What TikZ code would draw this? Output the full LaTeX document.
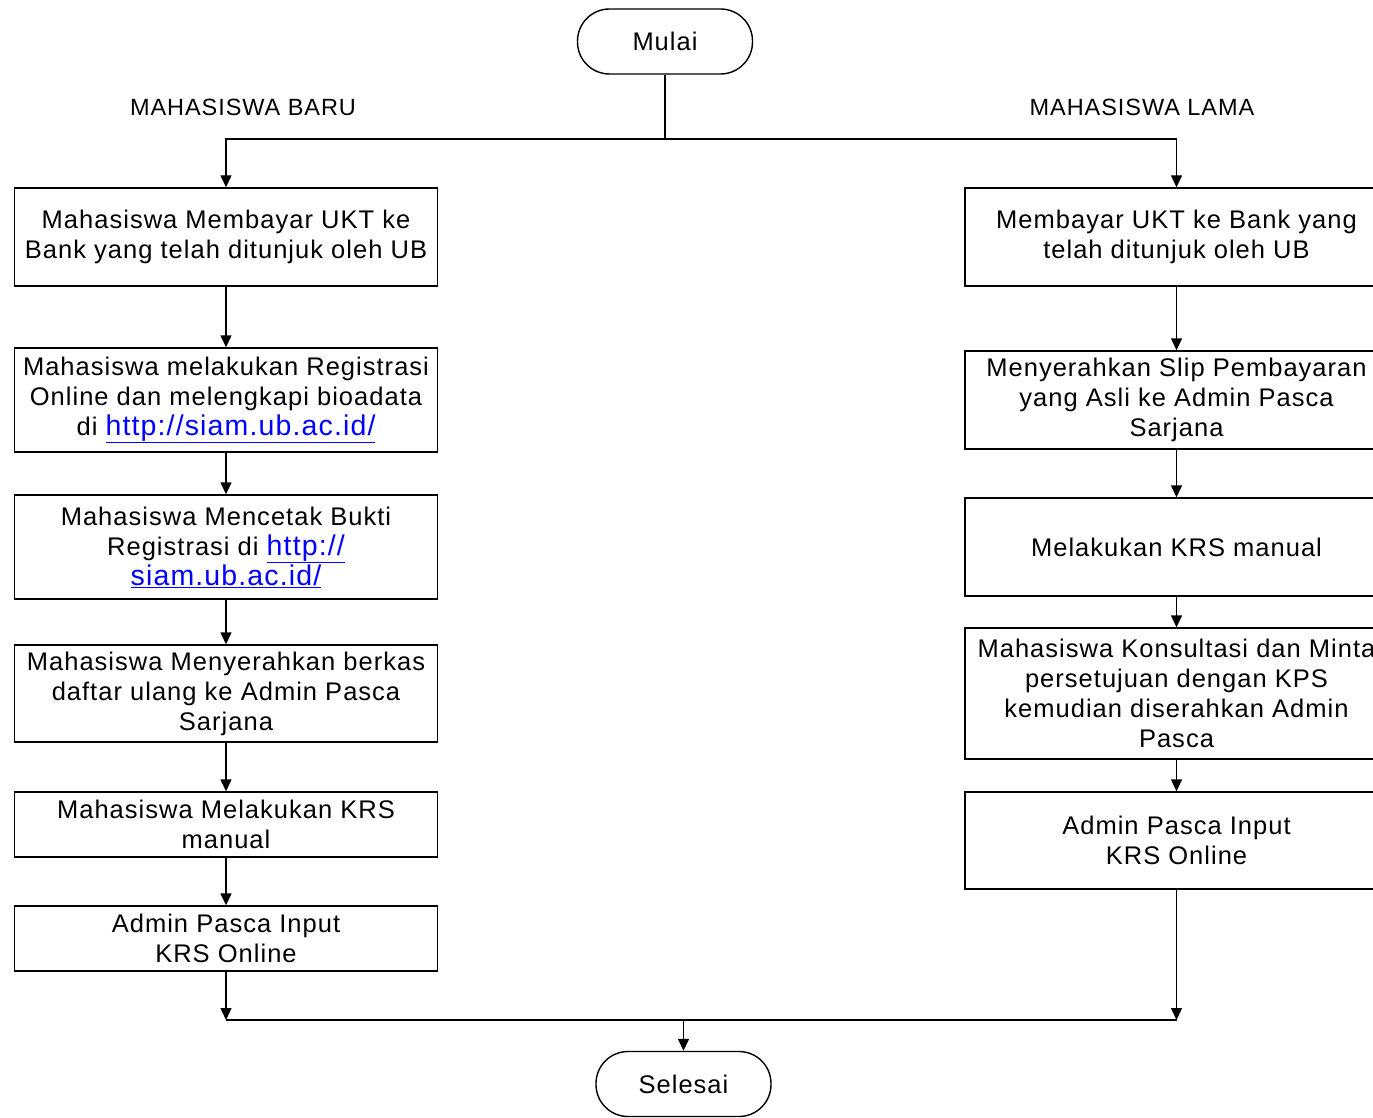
\documentclass[tikz,border=0pt]{standalone}
\usepackage{fontspec}
\setmainfont{Liberation Sans}[LetterSpace=4]
\usetikzlibrary{arrows.meta}
\definecolor{linkblue}{RGB}{0,0,255}
\newcommand{\lnk}[1]{{\fontsize{28.5}{30}\selectfont\textcolor{linkblue}{\underline{#1}}}}
\tikzset{
  box/.style={draw, line width=1.4pt, minimum width=423pt, inner sep=0pt, align=center,
    font=\fontsize{25.5}{30}\selectfont},
  term/.style={draw, line width=1.4pt, rounded corners=32pt, minimum width=175pt, minimum height=65pt,
    inner sep=0pt, font=\fontsize{25.5}{30}\selectfont},
  head/.style={font=\fontsize{23.5}{28}\selectfont, inner sep=0pt},
  conn/.style={line width=1.4pt},
  arr/.style={line width=1.4pt, -{Triangle[length=12pt,width=11pt]}}
}
\begin{document}
\begin{tikzpicture}[x=1pt,y=-1pt]
\useasboundingbox (0,0) rectangle (1373,1118);
\clip (0,0) rectangle (1373,1118);
% terminals
\node[term] (mulai) at (665,41.5) {Mulai};
\node[term] (selesai) at (683.5,1084) {Selesai};
% headings
\node[head] (hbaru) at (243,107) {MAHASISWA BARU};
\node[head] (hlama) at (1142,107) {MAHASISWA LAMA};
% left column
\node[box, minimum height=98pt] (L1) at (226,237) {Mahasiswa Membayar UKT ke\\Bank yang telah ditunjuk oleh UB};
\node[box, minimum height=104pt] (L2) at (226,400) {Mahasiswa melakukan Registrasi\\Online dan melengkapi bioadata\\di \lnk{http://siam.ub.ac.id/}};
\node[box, minimum height=104pt] (L3) at (226,547) {Mahasiswa Mencetak Bukti\\Registrasi di \lnk{http://}\\\lnk{siam.ub.ac.id/}};
\node[box, minimum height=97pt] (L4) at (226,693.5) {Mahasiswa Menyerahkan berkas\\daftar ulang ke Admin Pasca\\Sarjana};
\node[box, minimum height=65pt] (L5) at (226,824.5) {Mahasiswa Melakukan KRS\\manual};
\node[box, minimum height=65pt] (L6) at (226,938.5) {Admin Pasca Input\\KRS Online};
% right column
\node[box, minimum height=98pt] (R1) at (1176.5,237) {Membayar UKT ke Bank yang\\telah ditunjuk oleh UB};
\node[box, minimum height=98pt] (R2) at (1176.5,400) {Menyerahkan Slip Pembayaran\\yang Asli ke Admin Pasca\\Sarjana};
\node[box, minimum height=98pt] (R3) at (1176.5,547) {Melakukan KRS manual};
\node[box, minimum height=131pt] (R4) at (1176.5,693.5) {Mahasiswa Konsultasi dan Minta\\persetujuan dengan KPS\\kemudian diserahkan Admin\\Pasca};
\node[box, minimum height=97pt] (R5) at (1176.5,840.5) {Admin Pasca Input\\KRS Online};
% split
\coordinate (split) at (665,139);
\draw[conn] (mulai.south) -- (split);
\draw[arr] (split) -| (L1.north);
\draw[arr] (split) -| (R1.north);
% left chain
\draw[arr] (L1) -- (L2);
\draw[arr] (L2) -- (L3);
\draw[arr] (L3) -- (L4);
\draw[arr] (L4) -- (L5);
\draw[arr] (L5) -- (L6);
% right chain
\draw[arr] (R1) -- (R2);
\draw[arr] (R2) -- (R3);
\draw[arr] (R3) -- (R4);
\draw[arr] (R4) -- (R5);
% merge
\coordinate (ml) at (226,1020);
\coordinate (mr) at (1176.5,1020);
\coordinate (mm) at (683.5,1020);
\draw[arr] (L6.south) -- (ml);
\draw[arr] (R5.south) -- (mr);
\draw[conn] (ml) -- (mr);
\draw[arr] (mm) -- (selesai.north);
\end{tikzpicture}
\end{document}
